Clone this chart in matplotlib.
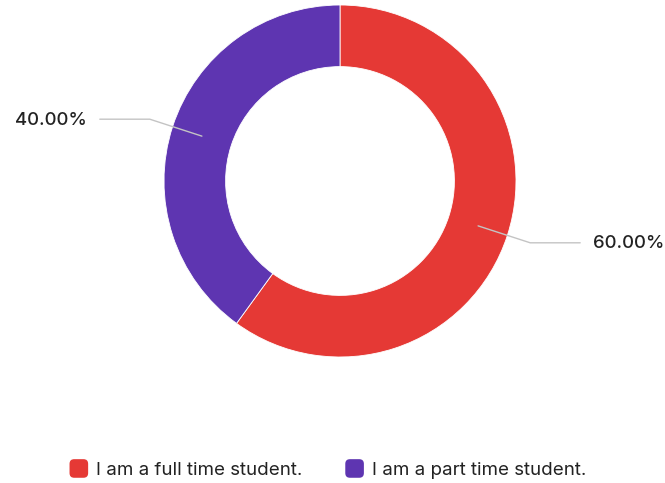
import numpy as np
import matplotlib.pyplot as plt
from matplotlib.patches import FancyBboxPatch
from matplotlib.legend_handler import HandlerPatch

plt.rcParams["font.family"] = ["Inter", "DejaVu Sans"]

labels = ["I am a full time student.", "I am a part time student."]
shares = [60.00, 40.00]
colors = ["#E53935", "#5E35B1"]

W, H = 665, 483
fig = plt.figure(figsize=(W / 100, H / 100), dpi=100)
ax = fig.add_axes([0, 0, 1, 1])

cx, cy, R = 340, H - 181, 176
wedges, _ = ax.pie(shares, colors=colors, startangle=90, counterclock=False,
                   center=(cx, cy), radius=R, frame=True,
                   wedgeprops=dict(width=R * 0.35, edgecolor="white", linewidth=0.6))
ax.set_xlim(0, W)
ax.set_ylim(0, H)
ax.set_aspect("equal")
ax.axis("off")

# leader lines from the middle of each ring segment, then a horizontal run
for w, val in zip(wedges, shares):
    mid = np.deg2rad((w.theta1 + w.theta2) / 2)
    r0, r1 = R - R * 0.175, R + 24
    x0, y0 = cx + r0 * np.cos(mid), cy + r0 * np.sin(mid)
    x1, y1 = cx + r1 * np.cos(mid), cy + r1 * np.sin(mid)
    side = 1 if np.cos(mid) > 0 else -1
    x2 = x1 + side * 50
    ax.plot([x0, x1, x2], [y0, y1, y1], color="#c4c4c4", lw=1, solid_capstyle="round")
    ax.text(x2 + side * 13, y1 - 1, f"{val:.2f}%", ha="left" if side > 0 else "right",
            va="center", fontsize=13.4, color="#222222", fontweight="medium")


class RoundBox(HandlerPatch):
    def create_artists(self, legend, orig, xdescent, ydescent, width, height, fontsize, trans):
        s = min(width, height)
        p = FancyBboxPatch((-xdescent + (width - s) / 2, -ydescent + (height - s) / 2), s, s,
                           boxstyle=f"round,pad=0,rounding_size={s * 0.25}",
                           facecolor=orig.get_facecolor(), edgecolor="none", transform=trans)
        return [p]


leg = fig.legend(wedges, labels, loc="center", bbox_to_anchor=(0.492, 0.029), ncol=2,
                 frameon=False, fontsize=13.5, handlelength=1.15, handleheight=1.15,
                 handletextpad=0.35, columnspacing=2.2, labelcolor="#222222",
                 handler_map={w: RoundBox() for w in wedges})

fig.savefig("out.png", dpi=100, facecolor="white")
